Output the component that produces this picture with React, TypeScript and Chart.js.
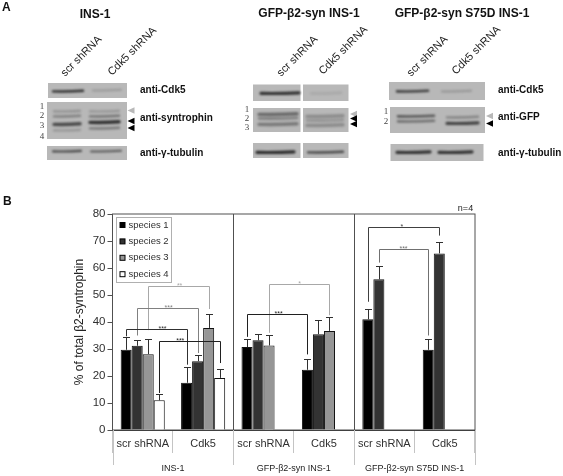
import React, { useEffect, useRef } from "react";
import { Chart, registerables } from "chart.js";

Chart.register(...registerables);

// ---- chart values ----
const categories = ["scr shRNA", "Cdk5", "scr shRNA", "Cdk5", "scr shRNA", "Cdk5"];
const groupLabels = ["INS-1", "GFP-β2-syn INS-1", "GFP-β2-syn S75D INS-1"];
const seriesNames = ["species 1", "species 2", "species 3", "species 4"];
const species1 = [29.7, 17.5, 30.7, 22.3, 41, 29.7];
const species2 = [31.2, 25.5, 33.2, 35.5, 55.8, 65.4];
const species3 = [28.1, 37.8, 31.3, 36.7, null, null];
const species4 = [11, 19.3, null, null, null, null];
const upper1 = [34.5, 23.5, 33.8, 26.3, 45, 33.6];
const upper2 = [33.5, 27.7, 35.4, 40.6, 60.7, 69.7];
const upper3 = [33.8, 43.1, 35.2, 41.9, null, null];
const upper4 = [13.2, 22.6, null, null, null, null];
const yTicks = [0, 10, 20, 30, 40, 50, 60, 70, 80];
// significance brackets: [series, group] at each end, bracket top and leg ends in axis units
const brackets = [
  { a: [2, 0], b: [2, 1], top: 53.3, la: 37, lb: 44.8, tone: "#a8a8a8", stars: "**", at: 0.51 },
  { a: [1, 0], b: [1, 1], top: 45.2, la: 35, lb: 28.5, tone: "#808080", stars: "***", at: 0.51 },
  { a: [0, 0], b: [0, 1], top: 37.5, la: 34.7, lb: 24.2, tone: "#303030", stars: "***", at: 0.59 },
  { a: [3, 0], b: [3, 1], top: 33, la: 13.7, lb: 24.8, tone: "#202020", stars: "***", at: 0.34 },
  { a: [2, 2], b: [2, 3], top: 54, la: 36, lb: 42.5, tone: "#a8a8a8", stars: "*", at: 0.5 },
  { a: [0, 2], b: [0, 3], top: 43, la: 34.5, lb: 28, tone: "#202020", stars: "***", at: 0.52 },
  { a: [0, 4], b: [1, 5], top: 75.3, la: 47.5, lb: 72, tone: "#404040", stars: "*", at: 0.47 },
  { a: [1, 4], b: [0, 5], top: 67, la: 62, lb: 35, tone: "#707070", stars: "***", at: 0.49 },
];

// ---- styles ----
const seriesFill = ["#000000", "#333333", "#969696", "#ffffff"];
const SANS = "'Liberation Sans', Arial, sans-serif";
const INK = "#303030";

// ---- western blot panels (illustration, not chart data) ----
type Band = [number, number, number, number, number]; // x0, x1, y, thickness, darkness
type Panel = { x: number; y: number; w: number; h: number; bands: Band[] };
const blotPanels: Panel[] = [
  { x: 48, y: 83, w: 79, h: 15, bands: [[52, 84, 91, 2.4, 0.85], [92, 122, 90, 2, 0.2]] },
  { x: 47, y: 102, w: 80, h: 37, bands: [
    [53, 81, 111, 2.2, 0.25], [53, 81, 116, 2.4, 0.35], [53, 81, 124, 3.4, 0.7], [53, 81, 130, 2.2, 0.22],
    [89, 120, 111, 2.2, 0.22], [89, 120, 116, 2.4, 0.42], [89, 120, 122, 3.4, 0.85], [89, 120, 128, 2.4, 0.4],
  ] },
  { x: 47, y: 146, w: 80, h: 14, bands: [[52, 82, 151, 2.2, 0.7], [90, 122, 151, 2, 0.6]] },
  { x: 253, y: 84.5, w: 47.5, h: 16.5, bands: [[260, 300, 93, 3.2, 0.85]] },
  { x: 303, y: 84.5, w: 45.5, h: 16.5, bands: [[310, 342, 93, 2.4, 0.1]] },
  { x: 253, y: 108, w: 47.5, h: 24, bands: [[258, 298, 114, 3.4, 0.5], [258, 298, 118, 2.8, 0.35], [258, 298, 124, 3.4, 0.4]] },
  { x: 303, y: 108, w: 45.5, h: 24, bands: [[306, 344, 116, 3.4, 0.28], [306, 344, 120, 2.8, 0.22], [306, 344, 125, 3.4, 0.28]] },
  { x: 253, y: 143, w: 47.5, h: 15, bands: [[256, 295, 152, 3.2, 0.9]] },
  { x: 303, y: 143, w: 45.5, h: 15, bands: [[307, 344, 152, 2.4, 0.7]] },
  { x: 389, y: 82, w: 96, h: 18, bands: [[396, 429, 91, 2.6, 0.75], [441, 472, 91, 2, 0.22]] },
  { x: 390, y: 107, w: 95, h: 26, bands: [
    [397, 435, 116, 2.6, 0.6], [397, 435, 121, 2.6, 0.45],
    [446, 479, 117, 2.4, 0.32], [446, 479, 123, 3.2, 0.75],
  ] },
  { x: 390.5, y: 144, w: 93, h: 17, bands: [[396, 431, 152, 3.2, 0.85], [438, 473, 152, 3.2, 0.85]] },
];
const laneNumbers: [string, number, number][] = [
  ["1", 42, 107], ["2", 42, 116], ["3", 42, 126], ["4", 42, 137],
  ["1", 247, 110], ["2", 247, 119], ["3", 247, 128],
  ["1", 386, 112], ["2", 386, 122],
];
const arrows: [number, number, string][] = [
  [127.5, 110.5, "#b8b8b8"], [127.5, 121, "#000"], [127.5, 128, "#000"],
  [350, 114, "#b8b8b8"], [350, 118.5, "#000"], [350, 124, "#000"],
  [486, 116, "#b8b8b8"], [486, 123.5, "#000"],
];
const blotLabels: [string, number, number][] = [
  ["anti-Cdk5", 140, 90.5], ["anti-syntrophin", 140, 118.5], ["anti-γ-tubulin", 140, 153.5],
  ["anti-Cdk5", 498, 90], ["anti-GFP", 498, 117.5], ["anti-γ-tubulin", 498, 153],
];
const panelTitles: [string, number, number][] = [
  ["INS-1", 95, 14.5], ["GFP-β2-syn INS-1", 309, 14], ["GFP-β2-syn S75D INS-1", 462, 13.5],
];
const laneLabels: [string, number, number][] = [
  ["scr shRNA", 65, 77], ["Cdk5 shRNA", 112, 76],
  ["scr shRNA", 281, 77], ["Cdk5 shRNA", 323, 75],
  ["scr shRNA", 411, 77], ["Cdk5 shRNA", 456, 75],
];

function drawBlots(ctx: CanvasRenderingContext2D) {
  ctx.save();
  blotPanels.forEach((p) => {
    ctx.filter = "blur(0.5px)";
    ctx.fillStyle = "#b8b8b8";
    ctx.fillRect(p.x, p.y, p.w, p.h);
    ctx.filter = "blur(1.2px)";
    p.bands.forEach(([x0, x1, y, t, d]) => {
      ctx.strokeStyle = `rgba(25,25,25,${d})`;
      ctx.lineWidth = t;
      ctx.lineCap = "round";
      ctx.beginPath();
      ctx.moveTo(x0 + 1, y + 0.4);
      ctx.quadraticCurveTo((x0 + x1) / 2, y + 0.8, x1 - 1, y - 0.2);
      ctx.stroke();
    });
  });
  ctx.filter = "none";
  arrows.forEach(([x, y, c]) => {
    ctx.fillStyle = c;
    ctx.beginPath();
    ctx.moveTo(x, y);
    ctx.lineTo(x + 7, y - 3.2);
    ctx.lineTo(x + 7, y + 3.2);
    ctx.closePath();
    ctx.fill();
  });
  ctx.textBaseline = "middle";
  ctx.textAlign = "center";
  ctx.fillStyle = "#444";
  ctx.font = "9px 'Liberation Serif', serif";
  laneNumbers.forEach(([t, x, y]) => ctx.fillText(t, x, y));
  ctx.fillStyle = "#111";
  ctx.font = `bold 12px ${SANS}`;
  panelTitles.forEach(([t, x, y]) => ctx.fillText(t, x, y));
  ctx.textAlign = "left";
  ctx.fillText("A", 2, 8);
  ctx.fillText("B", 3, 202);
  ctx.font = `bold 10px ${SANS}`;
  blotLabels.forEach(([t, x, y]) => ctx.fillText(t, x, y));
  ctx.font = `11px ${SANS}`;
  ctx.fillStyle = "#222";
  laneLabels.forEach(([t, x, y]) => {
    ctx.save();
    ctx.translate(x, y);
    ctx.rotate(-Math.PI / 4);
    ctx.textBaseline = "alphabetic";
    ctx.fillText(t, 0, 0);
    ctx.restore();
  });
  ctx.restore();
}

const overlay = {
  id: "overlay",
  beforeDraw(chart: any) {
    const ctx = chart.ctx;
    ctx.save();
    ctx.fillStyle = "#fff";
    ctx.fillRect(0, 0, chart.width, chart.height);
    ctx.restore();
    drawBlots(ctx);
  },
  beforeDatasetsDraw(chart: any) {
    const { ctx, chartArea: a } = chart;
    const step = (a.right - a.left) / categories.length;
    ctx.save();
    ctx.lineWidth = 1;
    // plot frame and group separators
    ctx.strokeStyle = "#505050";
    ctx.strokeRect(a.left, a.top, a.right - a.left, a.bottom - a.top);
    [2, 4].forEach((g) => {
      const x = Math.round(a.left + step * g) + 0.5;
      ctx.beginPath();
      ctx.moveTo(x, a.top);
      ctx.lineTo(x, a.bottom);
      ctx.stroke();
    });
    // long group dividers and group labels below the axis
    ctx.strokeStyle = "#c4c4c4";
    [0, 2, 4, 6].forEach((g) => {
      const x = Math.round(a.left + step * g) + 0.5;
      ctx.beginPath();
      ctx.moveTo(x, a.bottom);
      ctx.lineTo(x, a.bottom + 35);
      ctx.stroke();
    });
    ctx.fillStyle = "#222";
    ctx.font = `9px ${SANS}`;
    ctx.textAlign = "center";
    ctx.textBaseline = "middle";
    groupLabels.forEach((t, i) => ctx.fillText(t, a.left + step * (2 * i + 1), a.bottom + 39));
    ctx.fillText("n=4", a.right - 9.5, a.top - 5);
    ctx.restore();
  },
  afterDatasetsDraw(chart: any) {
    const { ctx, scales } = chart;
    const y = scales.y;
    const uppers = [upper1, upper2, upper3, upper4];
    ctx.save();
    // upper error bars
    ctx.lineWidth = 1;
    uppers.forEach((u, s) => {
      const meta = chart.getDatasetMeta(s);
      u.forEach((v, g) => {
        if (v == null) return;
        const el = meta.data[g];
        const px = Math.round(el.x) + 0.5;
        const top = Math.round(y.getPixelForValue(v)) + 0.5;
        ctx.strokeStyle = "#303030";
        ctx.beginPath();
        ctx.moveTo(px, el.y);
        ctx.lineTo(px, top);
        ctx.moveTo(px - 3.5, top);
        ctx.lineTo(px + 3.5, top);
        ctx.stroke();
      });
    });
    // significance brackets
    brackets.forEach((b) => {
      const xa = Math.round(chart.getDatasetMeta(b.a[0]).data[b.a[1]].x) + 0.5;
      const xb = Math.round(chart.getDatasetMeta(b.b[0]).data[b.b[1]].x) + 0.5;
      const yt = Math.round(y.getPixelForValue(b.top)) + 0.5;
      ctx.strokeStyle = b.tone;
      ctx.lineWidth = 1;
      ctx.beginPath();
      ctx.moveTo(xa, y.getPixelForValue(b.la));
      ctx.lineTo(xa, yt);
      ctx.lineTo(xb, yt);
      ctx.lineTo(xb, y.getPixelForValue(b.lb));
      ctx.stroke();
      ctx.fillStyle = b.tone;
      ctx.font = `7px ${SANS}`;
      ctx.textAlign = "center";
      ctx.textBaseline = "alphabetic";
      ctx.fillText(b.stars, xa + (xb - xa) * b.at, yt + 1);
    });
    // legend
    const a = chart.chartArea;
    const lx = a.left + 3.5;
    const ly = a.top + 2.5;
    ctx.fillStyle = "#fff";
    ctx.fillRect(lx, ly, 55.5, 65.5);
    ctx.strokeStyle = "#b0b0b0";
    ctx.strokeRect(Math.round(lx) + 0.5, Math.round(ly) + 0.5, 55, 65);
    ctx.font = `9.5px ${SANS}`;
    ctx.textAlign = "left";
    ctx.textBaseline = "middle";
    seriesNames.forEach((name, i) => {
      const rowY = ly + 8.5 + i * 16.4;
      ctx.fillStyle = seriesFill[i];
      ctx.strokeStyle = "#000";
      ctx.fillRect(lx + 4, rowY - 2.5, 5, 5);
      ctx.strokeRect(lx + 4, rowY - 2.5, 5, 5);
      ctx.fillStyle = INK;
      ctx.fillText(name, lx + 12.5, rowY);
    });
    ctx.restore();
  },
};

export default function App() {
  const ref = useRef<HTMLCanvasElement>(null);
  useEffect(() => {
    if (!ref.current) return;
    const values = [species1, species2, species3, species4];
    const chart = new Chart(ref.current, {
      type: "bar",
      data: {
        labels: categories,
        datasets: seriesNames.map((name, i) => ({
          label: name,
          data: values[i],
          backgroundColor: seriesFill[i],
          borderColor: "#111",
          borderWidth: 1,
          barPercentage: 1,
          categoryPercentage: 0.73,
        })),
      },
      options: {
        responsive: false,
        animation: false,
        layout: { padding: { left: 66, right: 88, top: 214, bottom: 0 } },
        plugins: { legend: { display: false }, tooltip: { enabled: false } },
        scales: {
          x: {
            afterFit: (s: any) => { s.height = 46; },
            grid: {
              offset: true,
              drawOnChartArea: false,
              color: "#c4c4c4",
              tickLength: 23,
              tickColor: "#c4c4c4",
            },
            border: { color: "#303030" },
            ticks: {
              padding: -16,
              maxRotation: 0,
              autoSkip: false,
              color: INK,
              font: { family: SANS, size: 11 },
            },
          },
          y: {
            min: 0,
            max: 80,
            afterFit: (s: any) => { s.width = 46.5; },
            afterBuildTicks: (s: any) => { s.ticks = yTicks.map((value) => ({ value })); },
            grid: { drawOnChartArea: false, tickLength: 5, color: "#505050" },
            border: { color: "#505050" },
            title: {
              display: true,
              text: "% of total β2-syntrophin",
              color: "#222",
              font: { family: SANS, size: 12 },
              padding: { top: 6, bottom: 0 },
            },
            ticks: { padding: 2, color: INK, font: { family: SANS, size: 11.5 } },
          },
        },
      },
      plugins: [overlay],
    } as any);
    return () => chart.destroy();
  }, []);
  return (
    <canvas
      ref={ref}
      width={563}
      height={476}
      style={{ position: "absolute", left: 0, top: 0, width: 563, height: 476, filter: "blur(0.35px)" }}
    />
  );
}
